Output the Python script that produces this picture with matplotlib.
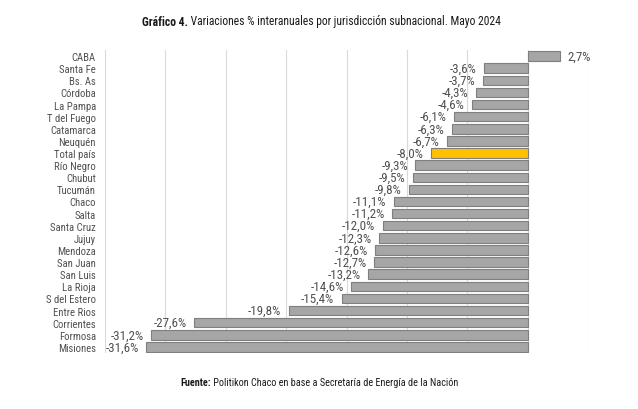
import matplotlib
matplotlib.use("Agg")
import matplotlib.pyplot as plt
from matplotlib import font_manager

names = {f.name for f in font_manager.fontManager.ttflist}
family = 'DejaVu Sans'
for cand in ['Roboto Condensed', 'Archivo Narrow', 'Liberation Sans Narrow', 'Barlow Semi Condensed', 'Asap Condensed']:
    if cand in names:
        family = cand
        break
plt.rcParams['font.family'] = [family, 'DejaVu Sans']

provinces = ["CABA", "Santa Fe", "Bs. As", "Córdoba", "La Pampa", "T del Fuego", "Catamarca",
             "Neuquén", "Total país", "Río Negro", "Chubut", "Tucumán", "Chaco", "Salta",
             "Santa Cruz", "Jujuy", "Mendoza", "San Juan", "San Luis", "La Rioja",
             "S del Estero", "Entre Rios", "Corrientes", "Formosa", "Misiones"]
values = [2.7, -3.6, -3.7, -4.3, -4.6, -6.1, -6.3, -6.7, -8.0, -9.3, -9.5, -9.8, -11.1,
          -11.2, -12.0, -12.3, -12.6, -12.7, -13.2, -14.6, -15.4, -19.8, -27.6, -31.2, -31.6]
title_bold = "Gráfico 4."
title_rest = " Variaciones % interanuales por jurisdicción subnacional. Mayo 2024"
source_bold = "Fuente:"
source_rest = " Politikon Chaco en base a Secretaría de Energía de la Nación"

W, H = 638, 410
fig = plt.figure(figsize=(W/100, H/100), dpi=100)
r = fig.canvas.get_renderer()

def fit_size(text, target_px, weight='normal', base=10):
    t = fig.text(0, 0, text, fontsize=base, fontweight=weight)
    w = t.get_window_extent(r).width
    t.remove()
    return base * target_px / w

lab_fs = fit_size("Misiones", 38)
val_fs = fit_size("-31,6%", 33)
tit_fs = fit_size(title_bold + title_rest, 358)
src_fs = fit_size(source_bold + source_rest, 275)

ax = fig.add_axes([105/W, 1-354/H, (588-105)/W, (354-51)/H])

n = len(provinces)
ypos = list(range(n))
colors = ['#FFC000' if p == "Total país" else '#A6A6A6' for p in provinces]
ax.barh(ypos, values, height=0.78, color=colors, edgecolor='#7F7F7F', linewidth=0.8, zorder=3)

txt_color = '#505050'
for y, v in zip(ypos, values):
    txt = f"{v:.1f}%".replace('.', ',')
    if v >= 0:
        ax.text(v + 0.6, y, txt, ha='left', va='center', fontsize=val_fs, color=txt_color)
    else:
        ax.text(v - 0.6, y, txt, ha='right', va='center', fontsize=val_fs, color=txt_color)

ax.set_xlim(-35, 5)
ax.set_ylim(n - 0.5, -0.5)
ax.set_xticks(range(-35, 6, 5))
ax.set_xticklabels([])
ax.tick_params(axis='x', length=0)
ax.tick_params(axis='y', length=0, labelsize=lab_fs, labelcolor=txt_color, pad=6.5)
ax.set_yticks(ypos)
ax.set_yticklabels(provinces)
ax.grid(axis='x', color='#D9D9D9', linewidth=0.8, zorder=0)
for s in ax.spines.values():
    s.set_visible(False)

def two_part(bold, rest, cx, cy, fs):
    tb = fig.text(0, 1-cy/H, bold, fontsize=fs, fontweight='bold', va='center', color='#1A1A1A')
    tr = fig.text(0, 1-cy/H, rest, fontsize=fs, va='center', color='#1A1A1A')
    wb = tb.get_window_extent(r).width
    wr = tr.get_window_extent(r).width
    x0 = cx - (wb + wr) / 2
    tb.set_x(x0 / W)
    tr.set_x((x0 + wb) / W)

two_part(title_bold, title_rest, 321, 22, tit_fs)
two_part(source_bold, source_rest, 319, 383, src_fs)

fig.savefig("out.png", dpi=100, facecolor='white')
